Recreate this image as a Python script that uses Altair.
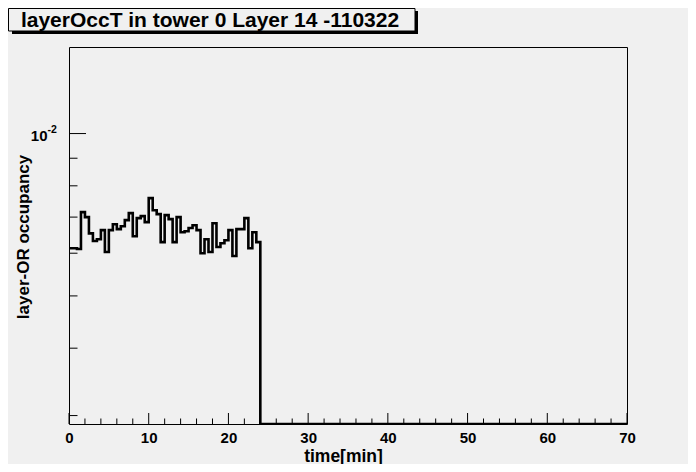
import altair as alt
import pandas as pd

TITLE = "layerOccT in tower 0 Layer 14 -110322"
X_TITLE = "time[min]"
Y_TITLE = "layer-OR occupancy"

BIN_WIDTH = 0.5  # minutes
X_MAX = 70
Y_MIN = 0.002894
Y_MAX = 0.01447

# occupancy per 0.5-min bin (bins after 24 min are empty)
occupancy = [
    0.00613, 0.00613, 0.00611, 0.00715, 0.00700, 0.00653, 0.00632, 0.00637,
    0.00662, 0.00603, 0.00662, 0.00679, 0.00665, 0.00673, 0.00691, 0.00712,
    0.00645, 0.00697, 0.00703, 0.00685, 0.00759, 0.00721, 0.00709, 0.00629,
    0.00706, 0.00694, 0.00629, 0.00700, 0.00656, 0.00659, 0.00668, 0.00676,
    0.00662, 0.00600, 0.00637, 0.00603, 0.00682, 0.00616, 0.00626, 0.00634,
    0.00662, 0.00593, 0.00665, 0.00665, 0.00697, 0.00613, 0.00656, 0.00629,
]
n_bins = int(X_MAX / BIN_WIDTH)
counts = occupancy + [0.0] * (n_bins - len(occupancy))

x_major = [0, 10, 20, 30, 40, 50, 60, 70]
x_minor = [2, 4, 6, 8, 12, 14, 16, 18, 22, 24, 26, 28, 32, 34, 36, 38,
           42, 44, 46, 48, 52, 54, 56, 58, 62, 64, 66, 68]
y_major = [0.01]
y_minor = [0.003, 0.004, 0.005, 0.006, 0.007, 0.008, 0.009]

W, H = 558, 377
FONT = "Liberation Sans"
BG = "#f0f0f0"

edges = [i * BIN_WIDTH for i in range(n_bins + 1)]
vals = [max(v, Y_MIN) for v in counts] + [max(counts[-1], Y_MIN)]
hist_df = pd.DataFrame({"x": edges, "y": vals})

xscale = alt.Scale(domain=[0, X_MAX], nice=False, zero=False)
yscale = alt.Scale(type="log", domain=[Y_MIN, Y_MAX], nice=False, zero=False)

hist = alt.Chart(hist_df).mark_line(
    interpolate="step-after", color="black", strokeWidth=2.6, clip=True
).encode(
    x=alt.X("x:Q", scale=xscale, title=X_TITLE,
            axis=alt.Axis(values=x_major, format="d", ticks=False, tickSize=0,
                          domain=False, grid=False, labelFlush=False,
                          labelPadding=6, labelFontSize=15, labelFontWeight="bold",
                          labelFont=FONT, labelColor="black",
                          titleFontSize=17.5, titleFontWeight="bold", titleFont=FONT,
                          titleColor="black", titlePadding=2, titleX=W / 2 - 5)),
    y=alt.Y("y:Q", scale=yscale, title=Y_TITLE,
            axis=alt.Axis(values=y_major, labelExpr="'10'", ticks=False, tickSize=0,
                          domain=False, grid=False, labelPadding=22,
                          labelFontSize=15, labelFontWeight="bold", labelFont=FONT,
                          labelColor="black", labelOffset=2,
                          titleFontSize=17, titleFontWeight="bold", titleFont=FONT,
                          titleColor="black", titleX=-37, titleY=H / 2 + 1,
                          titleAngle=-90)),
)

ytick_major = alt.Chart(pd.DataFrame({"y": y_major})).mark_rule(
    color="black", strokeWidth=1
).encode(y=alt.Y("y:Q", scale=yscale), x=alt.value(0), x2=alt.value(17))

ytick_minor = alt.Chart(pd.DataFrame({"y": y_minor})).mark_rule(
    color="black", strokeWidth=1
).encode(y=alt.Y("y:Q", scale=yscale), x=alt.value(0), x2=alt.value(8.5))

xtick_major = alt.Chart(pd.DataFrame({"x": x_major})).mark_rule(
    color="black", strokeWidth=1
).encode(x=alt.X("x:Q", scale=xscale), y=alt.value(H), y2=alt.value(H - 11))

xtick_minor = alt.Chart(pd.DataFrame({"x": x_minor})).mark_rule(
    color="black", strokeWidth=1
).encode(x=alt.X("x:Q", scale=xscale), y=alt.value(H), y2=alt.value(H - 5.5))

sup = alt.Chart(pd.DataFrame({"t": ["-2"]})).mark_text(
    align="left", baseline="middle", fontSize=10.5, fontWeight="bold",
    font=FONT, color="black", dy=-4
).encode(text="t:N", x=alt.value(-21.5), y=alt.datum(0.01))

title_df = pd.DataFrame({"t": [TITLE]})
shadow = alt.Chart(title_df).mark_rect(color="black").encode(
    x=alt.value(-57), x2=alt.value(349), y=alt.value(-36), y2=alt.value(-13)
)
box = alt.Chart(title_df).mark_rect(
    fill=BG, stroke="black", strokeWidth=1
).encode(x=alt.value(-60.5), x2=alt.value(346), y=alt.value(-38.5), y2=alt.value(-16))
title_text = alt.Chart(title_df).mark_text(
    align="center", baseline="alphabetic", fontSize=21, fontWeight="bold",
    font=FONT, color="black"
).encode(text="t:N", x=alt.value(141), y=alt.value(-20.5))

chart = alt.layer(
    shadow, box, title_text, hist, ytick_major, ytick_minor,
    xtick_major, xtick_minor, sup
).properties(
    width=W, height=H,
    autosize=alt.AutoSizeParams(type="none"),
    padding={"left": 61, "top": 39, "right": 61, "bottom": 40},
    background=BG,
).configure_view(stroke="black", strokeWidth=1, fill=BG)

chart.save("out.html", embed_options={"renderer": "svg", "actions": False})
